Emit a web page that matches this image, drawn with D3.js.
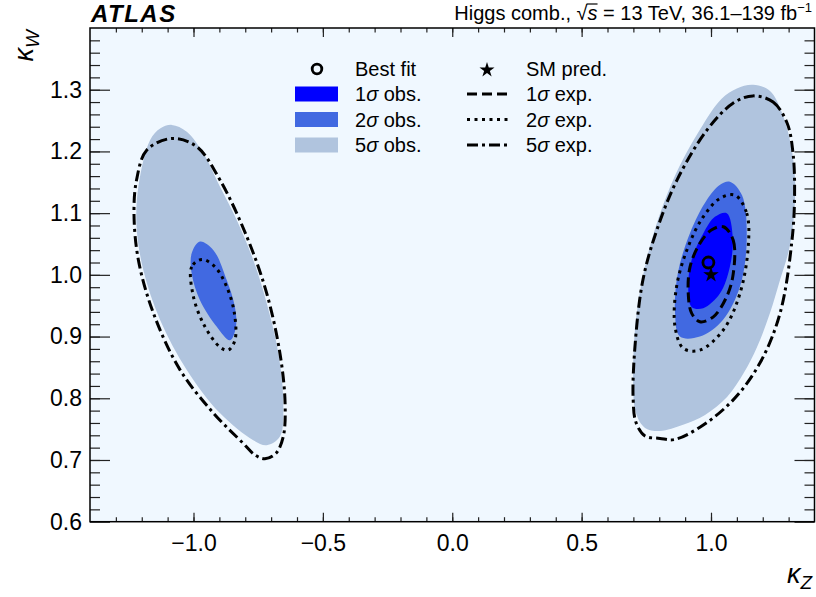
<!DOCTYPE html>
<meta charset="utf-8">
<style>
body { margin: 0; background: #fff; }
svg { font-family: "Liberation Sans", Arial, Helvetica, sans-serif; }
.axis text { font-size: 23px; fill: #000; }
.axis line { stroke: #222; stroke-width: 1.2px; }
.axis path { display: none; }
.legend text { font-size: 20px; }
</style>
<body>
<div id="chart"></div>
<script src="https://d3js.org/d3.v7.min.js"></script>
<script>
// axis ranges and tick labels
var xDomain = [-1.4, 1.4];
var yDomain = [0.6, 1.4];
var xTicks = [-1.0, -0.5, 0.0, 0.5, 1.0];
var xTickLabels = ["\u22121.0", "\u22120.5", "0.0", "0.5", "1.0"];
var yTicks = [0.6, 0.7, 0.8, 0.9, 1.0, 1.1, 1.2, 1.3];
var yTickLabels = ["0.6", "0.7", "0.8", "0.9", "1.0", "1.1", "1.2", "1.3"];

// contours, [kappa_Z, kappa_W]
var obs5Right = [[1.163,1.308],[1.228,1.298],[1.275,1.262],[1.308,1.212],[1.325,1.154],[1.321,1.097],[1.301,1.040],[1.267,0.992],[1.228,0.938],[1.178,0.883],[1.128,0.842],[1.062,0.802],[0.977,0.773],[0.892,0.757],[0.803,0.747],[0.745,0.752],[0.710,0.776],[0.699,0.830],[0.713,0.938],[0.764,1.046],[0.854,1.154],[0.957,1.235],[1.040,1.285],[1.100,1.302]];
var obs5Left = [[-1.084,1.243],[-1.026,1.232],[-0.962,1.197],[-0.898,1.143],[-0.833,1.089],[-0.769,1.024],[-0.717,0.954],[-0.672,0.873],[-0.653,0.792],[-0.666,0.738],[-0.717,0.724],[-0.769,0.732],[-0.898,0.776],[-1.026,0.846],[-1.129,0.927],[-1.194,1.008],[-1.220,1.078],[-1.213,1.143],[-1.168,1.218],[-1.129,1.237]];
var obs2Right = [[1.073,1.151],[1.120,1.129],[1.138,1.056],[1.112,0.981],[1.046,0.927],[0.957,0.900],[0.880,0.900],[0.861,0.938],[0.872,1.003],[0.919,1.068],[0.983,1.121],[1.035,1.146]];
var obs2Left = [[-0.975,1.054],[-1.007,1.035],[-1.007,1.002],[-0.975,0.959],[-0.910,0.916],[-0.859,0.894],[-0.836,0.916],[-0.840,0.948],[-0.872,0.992],[-0.923,1.040]];
var obs1Right = [[1.061,1.100],[1.084,1.062],[1.073,1.013],[1.035,0.970],[0.970,0.946],[0.925,0.948],[0.912,0.981],[0.925,1.024],[0.970,1.067],[1.015,1.094]];
var exp5Right = [[1.162,1.290],[1.240,1.280],[1.294,1.246],[1.317,1.197],[1.323,1.129],[1.313,1.056],[1.267,0.938],[1.189,0.857],[1.085,0.797],[0.957,0.753],[0.857,0.733],[0.803,0.735],[0.745,0.739],[0.710,0.761],[0.699,0.800],[0.706,0.883],[0.737,0.992],[0.791,1.073],[0.869,1.154],[0.985,1.235],[1.085,1.278]];
var exp5Left = [[-1.084,1.221],[-1.181,1.202],[-1.220,1.154],[-1.230,1.100],[-1.213,1.024],[-1.155,0.938],[-1.052,0.846],[-0.923,0.776],[-0.808,0.727],[-0.762,0.708],[-0.724,0.702],[-0.681,0.711],[-0.653,0.738],[-0.646,0.792],[-0.666,0.873],[-0.717,0.970],[-0.794,1.062],[-0.898,1.154],[-0.988,1.208]];
var exp2Right = [[1.093,1.129],[1.138,1.100],[1.144,1.046],[1.112,0.970],[1.048,0.911],[0.957,0.878],[0.893,0.881],[0.861,0.916],[0.867,0.981],[0.912,1.046],[0.970,1.094],[1.035,1.124]];
var exp2Left = [[-0.968,1.025],[-1.007,1.013],[-1.003,0.970],[-0.962,0.921],[-0.898,0.883],[-0.866,0.878],[-0.840,0.894],[-0.842,0.938],[-0.872,0.981],[-0.917,1.013]];
var exp1Right = [[1.048,1.078],[1.086,1.056],[1.086,1.002],[1.061,0.965],[1.009,0.932],[0.957,0.924],[0.925,0.938],[0.912,0.970],[0.919,1.013],[0.957,1.051],[1.003,1.073]];
var bestFit = [0.99, 1.02];
var smPred = [1.0, 1.0];

var margin = { top: 28, left: 90 },
    width = 724.5,
    height = 493.7;

var svg = d3.select("#chart").append("svg")
    .attr("width", 816)
    .attr("height", 597);

var g = svg.append("g")
    .attr("transform", "translate(" + margin.left + "," + margin.top + ")");

var x = d3.scaleLinear().domain(xDomain).range([0, width]);
var y = d3.scaleLinear().domain(yDomain).range([height, 0]);

g.append("clipPath").attr("id", "clip")
    .append("rect").attr("width", width).attr("height", height);

g.append("rect")
    .attr("width", width)
    .attr("height", height)
    .attr("fill", "#f0f8ff");

var line = d3.line()
    .x(function(d) { return x(d[0]); })
    .y(function(d) { return y(d[1]); })
    .curve(d3.curveCatmullRomClosed.alpha(0.5));

var plot = g.append("g").attr("clip-path", "url(#clip)");

var fills = [
    { pts: obs5Right, color: "#b0c4de" },
    { pts: obs5Left, color: "#b0c4de" },
    { pts: obs2Right, color: "#4169e1" },
    { pts: obs2Left, color: "#4169e1" },
    { pts: obs1Right, color: "#0000ff" }
];
plot.selectAll(".fill")
    .data(fills)
    .enter().append("path")
    .attr("class", "fill")
    .attr("d", function(d) { return line(d.pts); })
    .attr("fill", function(d) { return d.color; });

var dashDot = "11,4,3,4", dotted = "3,4.5", dashed = "10,5";
var lines = [
    { pts: exp5Right, dash: dashDot },
    { pts: exp5Left, dash: dashDot },
    { pts: exp2Right, dash: dotted },
    { pts: exp2Left, dash: dotted },
    { pts: exp1Right, dash: dashed }
];
plot.selectAll(".exp")
    .data(lines)
    .enter().append("path")
    .attr("class", "exp")
    .attr("d", function(d) { return line(d.pts); })
    .attr("fill", "none")
    .attr("stroke", "#000")
    .attr("stroke-width", 3)
    .attr("stroke-dasharray", function(d) { return d.dash; });

var star = d3.symbol().type(d3.symbolStar).size(75);

plot.append("path")
    .attr("d", star())
    .attr("transform", "translate(" + x(smPred[0]) + "," + y(smPred[1]) + ")")
    .attr("fill", "#000");

plot.append("circle")
    .attr("cx", x(bestFit[0]))
    .attr("cy", y(bestFit[1]))
    .attr("r", 5.5)
    .attr("fill", "none")
    .attr("stroke", "#000")
    .attr("stroke-width", 2.8);

// legend
var legend = g.append("g").attr("class", "legend")
    .attr("transform", "translate(" + (-margin.left) + "," + (-margin.top) + ")");
var rowY = [69, 94, 119.5, 145];

legend.append("circle")
    .attr("cx", 317).attr("cy", rowY[0]).attr("r", 4.8)
    .attr("fill", "none").attr("stroke", "#000").attr("stroke-width", 2.8);
var boxes = ["#0000ff", "#4169e1", "#b0c4de"];
boxes.forEach(function(c, i) {
    legend.append("rect")
        .attr("x", 295).attr("y", rowY[i + 1] - 7.5)
        .attr("width", 43).attr("height", 15)
        .attr("fill", c);
});
var leftLabels = [["", "Best fit"], ["1", " obs."], ["2", " obs."], ["5", " obs."]];
leftLabels.forEach(function(l, i) {
    var t = legend.append("text").attr("x", 355).attr("y", rowY[i]).attr("dy", "0.36em");
    if (l[0]) {
        t.append("tspan").text(l[0]);
        t.append("tspan").attr("font-style", "italic").text("\u03c3");
    }
    t.append("tspan").text(l[1]);
});

legend.append("path")
    .attr("d", star.size(70)())
    .attr("transform", "translate(487," + (rowY[0] + 1) + ")")
    .attr("fill", "#000");
[dashed, dotted, dashDot].forEach(function(d, i) {
    legend.append("line")
        .attr("x1", 467).attr("x2", 508)
        .attr("y1", rowY[i + 1]).attr("y2", rowY[i + 1])
        .attr("stroke", "#000").attr("stroke-width", 3)
        .attr("stroke-dasharray", d);
});
var rightLabels = [["", "SM pred."], ["1", " exp."], ["2", " exp."], ["5", " exp."]];
rightLabels.forEach(function(l, i) {
    var t = legend.append("text").attr("x", 526).attr("y", rowY[i]).attr("dy", "0.36em");
    if (l[0]) {
        t.append("tspan").text(l[0]);
        t.append("tspan").attr("font-style", "italic").text("\u03c3");
    }
    t.append("tspan").text(l[1]);
});

// axes, ticks inside on all four sides
var xMinor = d3.range(-13, 14).map(function(v) { return v / 10; });
var yMinor = d3.range(31, 70).map(function(v) { return v / 50; });

g.append("g").attr("class", "axis")
    .attr("transform", "translate(0," + height + ")")
    .call(d3.axisBottom(x).tickValues(xTicks).tickSize(-9).tickPadding(13)
        .tickFormat(function(d, i) { return xTickLabels[i]; }));
g.append("g").attr("class", "axis")
    .attr("transform", "translate(0," + height + ")")
    .call(d3.axisBottom(x).tickValues(xMinor).tickSize(-4.5).tickFormat(""));
g.append("g").attr("class", "axis")
    .call(d3.axisTop(x).tickValues(xTicks).tickSize(-9).tickFormat(""));
g.append("g").attr("class", "axis")
    .call(d3.axisTop(x).tickValues(xMinor).tickSize(-4.5).tickFormat(""));

g.append("g").attr("class", "axis")
    .call(d3.axisLeft(y).tickValues(yTicks).tickSize(-20).tickPadding(8)
        .tickFormat(function(d, i) { return yTickLabels[i]; }));
g.append("g").attr("class", "axis")
    .call(d3.axisLeft(y).tickValues(yMinor).tickSize(-10).tickFormat(""));
g.append("g").attr("class", "axis")
    .attr("transform", "translate(" + width + ",0)")
    .call(d3.axisRight(y).tickValues(yTicks).tickSize(-20).tickFormat(""));
g.append("g").attr("class", "axis")
    .attr("transform", "translate(" + width + ",0)")
    .call(d3.axisRight(y).tickValues(yMinor).tickSize(-10).tickFormat(""));

g.append("rect")
    .attr("width", width)
    .attr("height", height)
    .attr("fill", "none")
    .attr("stroke", "#000")
    .attr("stroke-width", 1.5);

// axis titles
var xt = svg.append("text")
    .attr("x", 812).attr("y", 583)
    .attr("text-anchor", "end")
    .attr("font-size", 27)
    .attr("font-style", "italic");
xt.append("tspan").text("\u03ba");
xt.append("tspan").attr("font-size", 19).attr("dy", 6).text("Z");

var yt = svg.append("text")
    .attr("transform", "translate(33,30) rotate(-90)")
    .attr("text-anchor", "end")
    .attr("font-size", 27)
    .attr("font-style", "italic");
yt.append("tspan").text("\u03ba");
yt.append("tspan").attr("font-size", 19).attr("dy", 6).text("W");

// header
svg.append("text")
    .attr("x", 91).attr("y", 22)
    .attr("font-size", 24)
    .attr("font-weight", "bold")
    .attr("font-style", "italic")
    .attr("letter-spacing", 1.5)
    .text("ATLAS");

var head = svg.append("text")
    .attr("x", 812).attr("y", 20)
    .attr("text-anchor", "end")
    .attr("font-size", 20);
head.append("tspan").text("Higgs comb., ");
head.append("tspan").text("\u221a");
head.append("tspan").attr("font-style", "italic").text("s");
head.append("tspan").text(" = 13 TeV, 36.1\u2013139 fb");
head.append("tspan").attr("font-size", 13).attr("dy", -8).text("\u22121");

var root = head.node().getExtentOfChar(13);
var sExt = head.node().getExtentOfChar(14);
svg.append("line")
    .attr("x1", root.x + root.width - 1).attr("x2", sExt.x + sExt.width)
    .attr("y1", root.y + 2).attr("y2", root.y + 2)
    .attr("stroke", "#000").attr("stroke-width", 1.2);
</script>
</body>
